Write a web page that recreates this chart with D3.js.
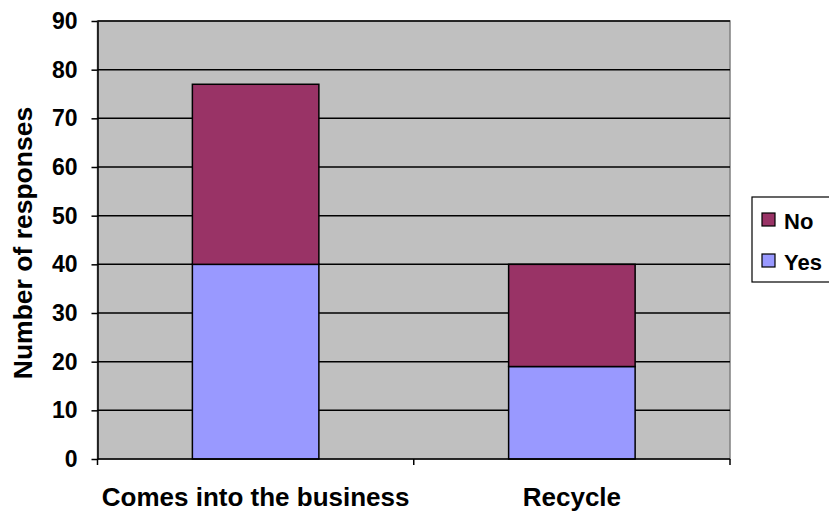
<!DOCTYPE html>
<html>
<head>
<meta charset="utf-8">
<script src="https://cdn.jsdelivr.net/npm/d3@7"></script>
<style>
  html, body { margin: 0; padding: 0; background: #fff; overflow: hidden; }
  svg { display: block; font-family: "Liberation Sans", Arial, sans-serif; font-weight: bold; }
</style>
</head>
<body>
<svg id="chart" width="829" height="513"></svg>
<script>
// Survey responses, stacked Yes (bottom) then No (top)
const categories = ["Comes into the business", "Recycle"];
const yesValues = [40, 19];
const noValues = [37, 21];
const seriesNames = ["Yes", "No"];
const seriesColors = ["#9999FF", "#993366"];
const yTicks = [0, 10, 20, 30, 40, 50, 60, 70, 80, 90];

const svg = d3.select("#chart");
const plot = { left: 97.5, right: 730, top: 21, bottom: 459 };

const x = d3.scaleBand()
  .domain(categories)
  .range([plot.left, plot.right])
  .paddingInner(0.6)
  .paddingOuter(0.3);

const y = d3.scaleLinear().domain([0, 90]).range([plot.bottom, plot.top]);

// Plot background
svg.append("rect")
  .attr("x", plot.left).attr("y", plot.top)
  .attr("width", plot.right - plot.left).attr("height", plot.bottom - plot.top)
  .attr("fill", "#C0C0C0")
  .attr("stroke", "#808080").attr("stroke-width", 1.5);

// Horizontal gridlines
svg.append("g").selectAll("line")
  .data(yTicks.filter(d => d > 0))
  .join("line")
  .attr("x1", plot.left).attr("x2", plot.right)
  .attr("y1", d => y(d)).attr("y2", d => y(d))
  .attr("stroke", "#000").attr("stroke-width", 1.5);

// Stacked bars
const rows = categories.map((c, i) => ({ category: c, Yes: yesValues[i], No: noValues[i] }));
const stacked = d3.stack().keys(seriesNames)(rows);
const color = d3.scaleOrdinal().domain(seriesNames).range(seriesColors);

svg.append("g").selectAll("g")
  .data(stacked)
  .join("g")
  .attr("fill", d => color(d.key))
  .selectAll("rect")
  .data(d => d)
  .join("rect")
  .attr("x", d => x(d.data.category))
  .attr("width", x.bandwidth())
  .attr("y", d => y(d[1]))
  .attr("height", d => y(d[0]) - y(d[1]))
  .attr("stroke", "#000").attr("stroke-width", 1.5);

// Y axis
const yAxis = svg.append("g")
  .attr("transform", `translate(${plot.left},0)`)
  .call(d3.axisLeft(y).tickValues(yTicks).tickSize(6).tickPadding(14).tickSizeOuter(0));
yAxis.select(".domain").attr("stroke", "#000").attr("stroke-width", 1.5);
yAxis.selectAll(".tick line").attr("stroke", "#000").attr("stroke-width", 1.5);
yAxis.selectAll(".tick text")
  .attr("fill", "#000").attr("font-size", 23).attr("font-weight", "bold")
  .attr("font-family", "'Liberation Sans', Arial, sans-serif");

// X axis: ticks at the band boundaries
const xAxisG = svg.append("g").attr("transform", `translate(0,${plot.bottom})`);
xAxisG.append("line")
  .attr("x1", plot.left).attr("x2", plot.right)
  .attr("stroke", "#000").attr("stroke-width", 1.5);
const step = (plot.right - plot.left) / categories.length;
xAxisG.selectAll("line.tick")
  .data(d3.range(categories.length + 1))
  .join("line")
  .attr("class", "tick")
  .attr("x1", d => plot.left + d * step).attr("x2", d => plot.left + d * step)
  .attr("y1", 0).attr("y2", 6)
  .attr("stroke", "#000").attr("stroke-width", 1.5);
xAxisG.selectAll("text")
  .data(categories)
  .join("text")
  .attr("x", d => x(d) + x.bandwidth() / 2)
  .attr("y", 47)
  .attr("text-anchor", "middle")
  .attr("font-size", 26)
  .attr("fill", "#000")
  .text(d => d);

// Y axis title
svg.append("text")
  .attr("transform", `translate(32,${(plot.top + plot.bottom) / 2 + 3}) rotate(-90)`)
  .attr("text-anchor", "middle")
  .attr("font-size", 26.5)
  .attr("fill", "#000")
  .text("Number of responses");

// Legend (No listed above Yes)
const legend = svg.append("g");
legend.append("rect")
  .attr("x", 752).attr("y", 197)
  .attr("width", 100).attr("height", 85)
  .attr("fill", "#fff").attr("stroke", "#000").attr("stroke-width", 1.2);
const legendItems = ["No", "Yes"];
legend.selectAll("g.item")
  .data(legendItems)
  .join("g")
  .attr("class", "item")
  .attr("transform", (d, i) => `translate(762,${213 + i * 41})`)
  .each(function (d) {
    const g = d3.select(this);
    g.append("rect").attr("width", 13).attr("height", 13)
      .attr("fill", color(d)).attr("stroke", "#000").attr("stroke-width", 1.2);
    g.append("text").attr("x", 22).attr("y", 16)
      .attr("font-size", 22).attr("fill", "#000").text(d);
  });
</script>
</body>
</html>
